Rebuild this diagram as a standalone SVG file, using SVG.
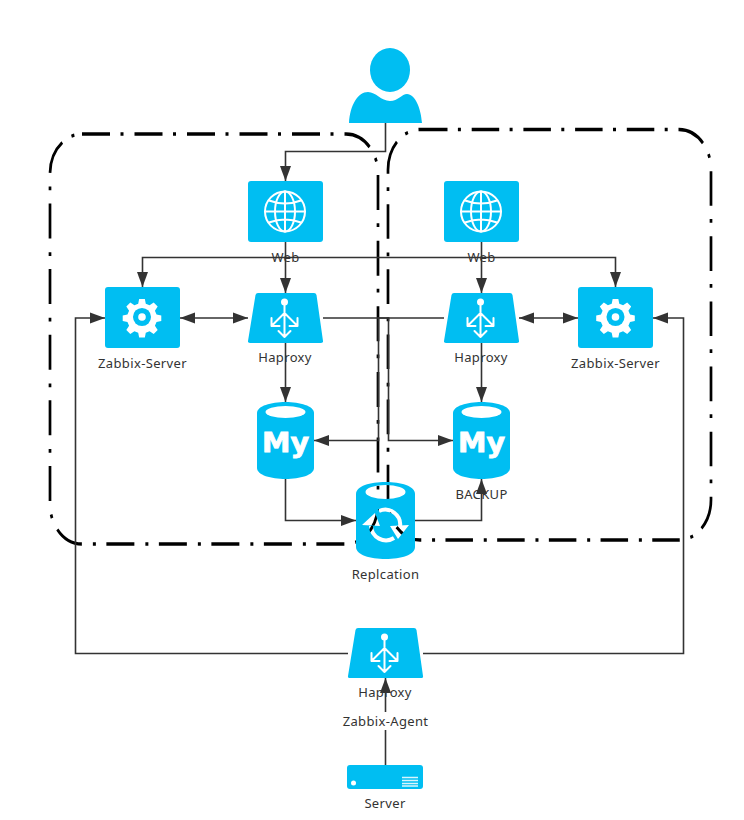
<svg xmlns="http://www.w3.org/2000/svg" width="744" height="820" viewBox="0 0 744 820">
<style>
text{font-family:"Noto Sans","Open Sans","Liberation Sans",sans-serif;font-size:13px;letter-spacing:.35px;fill:#333;text-anchor:middle}
.i{fill:#00bef2}
.w{fill:#fff}
.ws{fill:none;stroke:#fff;stroke-width:2;stroke-linecap:round;stroke-linejoin:round}
.group{fill:none;stroke:#000;stroke-width:2.700}
.c{fill:none;stroke:#333;stroke-width:1.600}
.my{font-family:"DejaVu Sans",sans-serif;font-weight:bold;font-size:27px;letter-spacing:0;fill:#fff;stroke:#fff;stroke-width:.8}
</style>
<defs>
<marker id="a" markerUnits="userSpaceOnUse" markerWidth="16" markerHeight="12" refX="15" refY="6" orient="auto-start-reverse"><path d="M0,0.5L15,6L0,11.5Z" fill="#333"/></marker>
<symbol id="gear" viewBox="0 0 40 40" overflow="visible"><path d="M17,1h6l1,5 4,1.700 4.300,-2.900 4.200,4.200-2.900,4.300 1.700,4 5,1v6l-5,1-1.700,4 2.900,4.300-4.200,4.200-4.300,-2.900-4,1.700-1,5h-6l-1,-5-4,-1.700-4.300,2.900-4.200,-4.200 2.900,-4.300-1.700,-4-5,-1v-6l5,-1 1.700,-4-2.900,-4.300 4.200,-4.200 4.300,2.900 4,-1.700z" fill="#fff"/><circle cx="20" cy="20" r="9.500" fill="#00bef2"/><circle cx="20" cy="20" r="4" fill="#fff"/></symbol>
<g id="globe">
<circle cx="0" cy="0" r="20" class="ws"/>
<ellipse cx="0" cy="0" rx="10" ry="20" class="ws"/>
<path d="M0,-20V20M-20,0H20M-16,-11Q0,-5 16,-11M-16,11Q0,5 16,11" class="ws"/>
</g>
<g id="split">
<circle cx="0" cy="0" r="3.500" class="w"/>
<path d="M0,0V35M0,11L-12.500,23.500M0,11L12.500,23.500M-13,16V24H-5M13,16V24H5M-6,29L0,35L6,29" class="ws"/>
</g>
<mask id="rep" maskUnits="userSpaceOnUse" x="350" y="475" width="70" height="90">
<rect x="350" y="475" width="70" height="90" fill="#fff"/>
<ellipse cx="385.500" cy="492" rx="20" ry="7" fill="#000"/>
<path d="M379,511A15,15 0 0 1 400,527M371,526A15,15 0 0 0 394,538" fill="none" stroke="#000" stroke-width="4"/>
<path d="M362,525L375,513L380,526ZM390,526L409,525L398,539Z" fill="#000"/>
</mask>
</defs>

<g id="groups">
<path class="group" transform="scale(1,1.250)" stroke-dasharray="28 10.5 3 11" d="M82,107.200H346A32,32 0 0 1 378,139.200V403.200A32,32 0 0 1 346,435.200H82A32,32 0 0 1 50,403.200V139.200A32,32 0 0 1 82,107.200Z"/>
<path class="group" transform="scale(1,1.260)" stroke-dasharray="27.500 10.400 3 10.800" d="M420,102.800H679A32,32 0 0 1 711,134.800V396.600A32,32 0 0 1 679,428.600H420A32,32 0 0 1 388,396.600V134.800A32,32 0 0 1 420,102.800Z"/>
</g>

<g id="connectors">
<path class="c" marker-end="url(#a)" d="M385.500,123V151.500H285.500V181"/>
<path class="c" marker-end="url(#a)" d="M285.500,242V293"/>
<path class="c" marker-end="url(#a)" d="M481.500,242V293"/>
<path class="c" marker-end="url(#a)" d="M285.500,257.500H142.500V287"/>
<path class="c" marker-end="url(#a)" d="M285.500,257.500H615.500V287"/>
<path class="c" marker-start="url(#a)" marker-end="url(#a)" d="M180,318H248"/>
<path class="c" marker-start="url(#a)" marker-end="url(#a)" d="M519,318H578"/>
<path class="c" marker-end="url(#a)" d="M285.500,343V402"/>
<path class="c" marker-end="url(#a)" d="M481.500,343V402"/>
<path class="c" marker-end="url(#a)" d="M323,318H388.500V440.500H453"/>
<path class="c" marker-end="url(#a)" d="M444,318H378.500V440.500H314"/>
<path class="c" marker-end="url(#a)" d="M285.500,479V520.500H356"/>
<path class="c" marker-end="url(#a)" d="M415,520.500H481.500V479"/>
<path class="c" marker-end="url(#a)" d="M348,653.500H75.500V318H105"/>
<path class="c" marker-end="url(#a)" d="M423,653.500H683.500V318H653"/>
<path class="c" marker-end="url(#a)" d="M385.500,765V678"/>
</g>

<g id="user">
<ellipse class="i" cx="390" cy="70" rx="20" ry="22"/>
<path class="i" d="M349,123C350,105 358,92 368,92C376,92 381,101 390,101C398,101 402,94 407,94C415,94 421,108 422,123Z"/>
</g>

<g id="web1"><rect class="i" x="248" y="181" width="75" height="61" rx="3"/><use href="#globe" x="285" y="211.500"/><text x="285.500" y="262">Web</text></g>
<g id="web2"><rect class="i" x="444" y="181" width="75" height="61" rx="3"/><use href="#globe" x="481" y="211.500"/><text x="481.500" y="262">Web</text></g>

<g id="zabbix1"><rect class="i" x="105" y="287" width="75" height="61" rx="3"/><use href="#gear" x="123" y="298" width="38" height="38"/><text x="142.500" y="368">Zabbix-Server</text></g>
<g id="zabbix2"><rect class="i" x="578" y="287" width="75" height="61" rx="3"/><use href="#gear" x="596.500" y="298" width="38" height="38"/><text x="615.500" y="368">Zabbix-Server</text></g>

<g id="haproxy1"><path class="i" d="M258,293H314Q316,293 316.500,295L323,341Q323.500,343 321,343H250Q247.500,343 248,341L255.500,295Q256,293 258,293Z"/><use href="#split" x="284.500" y="302"/><text x="285" y="362">Haproxy</text></g>
<g id="haproxy2"><path class="i" d="M454,293H510Q512,293 512.500,295L519,341Q519.500,343 517,343H446Q443.500,343 444,341L451.500,295Q452,293 454,293Z"/><use href="#split" x="480.500" y="302"/><text x="481" y="362">Haproxy</text></g>
<g id="haproxy3"><path class="i" d="M358,628H414Q416,628 416.500,630L423,676Q423.500,678 421,678H350Q347.500,678 348,676L355.500,630Q356,628 358,628Z"/><use href="#split" x="384.500" y="637"/><text x="385" y="697">Haproxy</text></g>

<g id="mysql1"><path class="i" d="M257,413C257,406 271,402 285.500,402S314,406 314,413V468C314,475 300,479 285.500,479S257,475 257,468Z"/><ellipse class="w" cx="285.500" cy="412" rx="20" ry="6"/><text class="my" x="285.500" y="452" textLength="47" lengthAdjust="spacingAndGlyphs">My</text></g>
<g id="mysql2"><path class="i" d="M453,413C453,406 467,402 481.500,402S510,406 510,413V468C510,475 496,479 481.500,479S453,475 453,468Z"/><ellipse class="w" cx="481.500" cy="412" rx="20" ry="6"/><text class="my" x="481.500" y="452" textLength="47" lengthAdjust="spacingAndGlyphs">My</text><text x="481.500" y="499">BACKUP</text></g>

<g id="replication"><path class="i" mask="url(#rep)" d="M356,494C356,486 370,482 385.500,482S415,486 415,494V547C415,555 401,559 385.500,559S356,555 356,547Z"/><text x="385.500" y="579">Replcation</text></g>

<g id="agent-label"><rect x="340" y="712" width="91" height="18" fill="#fff"/><text x="385.500" y="726">Zabbix-Agent</text></g>

<g id="server"><rect class="i" x="347" y="765" width="76" height="24" rx="3"/><circle class="w" cx="353.500" cy="783" r="2.500"/><path d="M402,777.500H418M402,780.500H418M402,783.500H418M402,786H418" stroke="#fff" stroke-width="1.500" fill="none" opacity=".85"/><text x="385" y="808">Server</text></g>
</svg>
